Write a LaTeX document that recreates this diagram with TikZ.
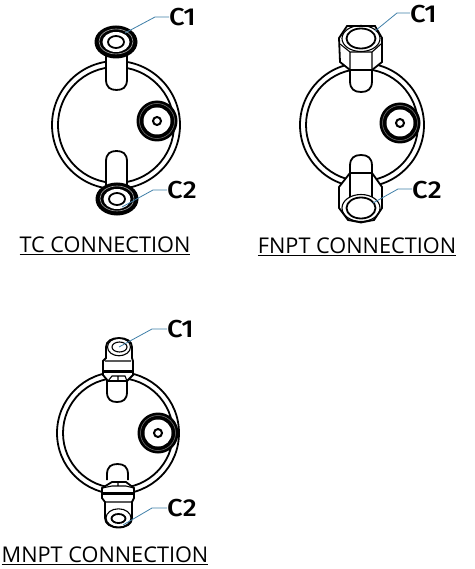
\documentclass[tikz,border=0pt]{standalone}
\usepackage{fontspec}
\setmainfont{Open Sans}
\newfontfamily\tagfont[FakeStretch=1.12]{Fira Sans Medium}
\tikzset{
  x=1pt,y=-1pt,
  ln/.style={draw=black,line width=1.8pt},
  thin ln/.style={draw=black,line width=1.1pt},
  solid body/.style={ln,fill=white},
  leader/.style={draw=leadblue,line width=0.8pt},
  tag/.style={font=\tagfont\fontsize{24.5}{24.5}\selectfont,text=black,inner sep=0pt,anchor=west},
  title/.style={font=\fontsize{21.7}{24}\selectfont,text=black,inner sep=0pt},
}
\definecolor{leadblue}{HTML}{3F7FA8}
% body ring: centre x, centre y, outer r
\newcommand{\bodyring}[3]{%
  \draw[ln] (#1,#2) circle[radius=#3];
  \draw[ln] (#1,#2) circle[radius=#3-6];}
% side port
\newcommand{\sideport}[2]{%
  \fill[black] (#1,#2) circle[radius=20.5];
  \draw[gray,line width=0.5pt] (#1,#2) circle[radius=17.5];
  \fill[white] (#1,#2) circle[radius=13.5];
  \draw[black,line width=2pt] (#1,#2) circle[radius=4];}
% stub: x-left, x-right, base y, tip y
\newcommand{\stub}[4]{%
  \path[solid body] (#1,#3) -- (#1,{#4-(#2-#1)/2*sign(#4-#3)})
    .. controls (#1,{#4-(#2-#1)/8*sign(#4-#3)}) and ({#1+(#2-#1)/5},#4) .. ({(#1+#2)/2},#4)
    .. controls ({#2-(#2-#1)/5},#4) and (#2,{#4-(#2-#1)/8*sign(#4-#3)}) .. (#2,{#4-(#2-#1)/2*sign(#4-#3)})
    -- (#2,#3);}
% triclamp flange
\newcommand{\flange}[2]{%
  \fill[black] (#1,#2) ellipse[x radius=21.5,y radius=16.5];
  \draw[gray!70,line width=0.6pt] (#1,{#2-0.5}) ellipse[x radius=17,y radius=12.5];
  \fill[white] (#1,#2) ellipse[x radius=13.5,y radius=10];
  \draw[black,line width=1.8pt] (#1,#2) ellipse[x radius=8,y radius=6];}
\begin{document}
\begin{tikzpicture}
\useasboundingbox (0,0) rectangle (474,569);
% ===== TC =====
\bodyring{116}{125}{64}
\stub{106}{127}{50}{90}
\stub{106}{127}{200}{151}
\flange{116}{42}
\flange{117}{199}
\sideport{157}{121}
% ===== FNPT =====
\bodyring{362}{125}{62}
\stub{350}{372}{60}{92}
\stub{350}{372}{180}{155}
% top nut
\path[solid body] (339,38) -- (347,26) -- (375,26) -- (382,38) -- (382,62) -- (372,70) -- (350,70) -- (340,62) -- cycle;
\draw[thin ln] (350,52) -- (350,70) (372,52) -- (372,70) (340,44) -- (350,52) -- (372,52) -- (381,44);
\draw[thin ln] (361,38.5) ellipse[x radius=19,y radius=13];
\draw[solid body] (361,38.5) ellipse[x radius=14.5,y radius=10];
% bottom nut
\path[solid body] (350,173) -- (372,173) -- (382,187) -- (382,208) -- (374,220) -- (361,222.5) -- (348,220) -- (339,208) -- (339,187) -- cycle;
\draw[thin ln] (350,173) -- (350,197) (372,173) -- (372,197);
\draw[thin ln] (361,208) ellipse[x radius=19,y radius=13.5];
\draw[solid body] (361,208) ellipse[x radius=14.5,y radius=10.5];
\sideport{400}{123}
% ===== MNPT =====
\bodyring{118}{433}{61}
\stub{107}{127}{378}{402}
\stub{107}{128}{480}{464}
% top male
\path[solid body] (106,347) .. controls (106,341) and (112,338) .. (119,338) .. controls (126,338) and (132,341) .. (132,347) -- (132,358) -- (133,361) -- (133,375) -- (127,381) -- (108,381) -- (103,375) -- (103,361) -- (106,358) -- cycle;
\draw[black,line width=2.6pt] (104,371.5) -- (132,371.5);
\draw[thin ln] (108,381) -- (112,376) -- (125,376) -- (127,381) (118,376) -- (118,381) (105,361) -- (131,361);
\draw[thin ln] (119,347) ellipse[x radius=11.5,y radius=8.8];
\draw[thin ln] (119.5,347) ellipse[x radius=7.5,y radius=5];
% bottom male
\path[solid body] (112,482) -- (126,482) -- (134,488) -- (134,498) -- (132,502) -- (132,518) .. controls (132,524) and (126,527.5) .. (118.5,527.5) .. controls (111,527.5) and (105,524) .. (105,518) -- (105,502) -- (102,498) -- (102,488) -- cycle;
\draw[black,line width=2.6pt] (103,493.5) -- (133,493.5);
\draw[thin ln] (102,488) -- (112,486) -- (126,486) -- (134,488) (118,482) -- (118,486) (105,502) -- (132,502);
\draw[thin ln] (118.5,518) ellipse[x radius=12.5,y radius=9.2];
\draw[ln] (118.5,518.5) ellipse[x radius=7,y radius=4.5];
\sideport{158}{433}
% ===== leaders and tags =====
\coordinate (a1) at (125,33); \coordinate (a1k) at (155,17);
\node[tag] (t1) at (169,17) {C1};
\draw[leader] (a1) -- (a1k) -- (t1.west);
\coordinate (a2) at (122,207); \coordinate (a2k) at (153,190);
\node[tag] (t2) at (167,190) {C2};
\draw[leader] (a2) -- (a2k) -- (t2.west);
\coordinate (b1) at (375,31); \coordinate (b1k) at (397,13);
\node[tag] (t3) at (410,14) {C1};
\draw[leader] (b1) -- (b1k) -- (t3.west |- b1k);
\coordinate (b2) at (373,203); \coordinate (b2k) at (398,189);
\node[tag] (t4) at (412,190) {C2};
\draw[leader] (b2) -- (b2k) -- (t4.west |- b2k);
\coordinate (c1) at (119,347); \coordinate (c1k) at (152,329);
\node[tag] (t5) at (167,329) {C1};
\draw[leader] (c1) -- (c1k) -- (t5.west);
\coordinate (c2) at (123,525); \coordinate (c2k) at (152,508);
\node[tag] (t6) at (167,508) {C2};
\draw[leader] (c2) -- (c2k) -- (t6.west);
% ===== titles =====
\node[title] (n1) at (105,246) {\underline{TC CONNECTION}};
\node[title] (n2) at (357,247) {\underline{FNPT CONNECTION}};
\node[title] (n3) at (105,556) {\underline{MNPT CONNECTION}};
\end{tikzpicture}
\end{document}
